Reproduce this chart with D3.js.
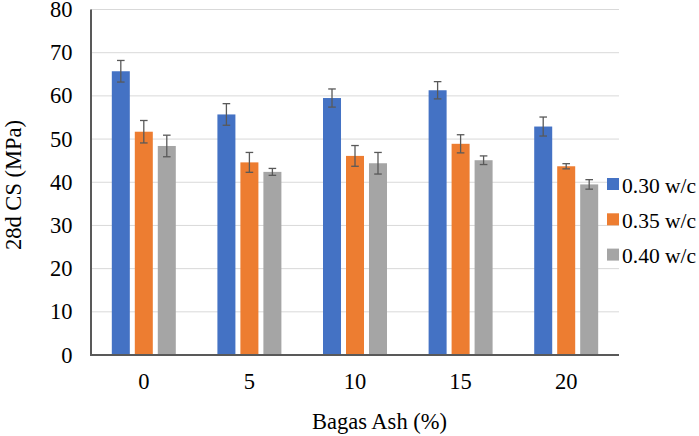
<!DOCTYPE html>
<html>
<head>
<meta charset="utf-8">
<script src="https://cdn.jsdelivr.net/npm/d3@7"></script>
<style>
  html, body { margin: 0; padding: 0; background: #fff; }
  text { font-family: "Liberation Serif", "DejaVu Serif", serif; }
</style>
</head>
<body>
<svg id="chart" width="699" height="436"></svg>
<script>
// 資料
const categories = ['0', '5', '10', '15', '20'];
const seriesNames = ['0.30 w/c', '0.35 w/c', '0.40 w/c'];
const cs030 = [65.7, 55.7, 59.5, 61.3, 52.9];
const cs035 = [51.7, 44.6, 46.1, 48.9, 43.7];
const cs040 = [48.4, 42.4, 44.4, 45.1, 39.5];
const err030 = [2.5, 2.5, 2.1, 2.0, 2.2];
const err035 = [2.6, 2.3, 2.4, 2.1, 0.6];
const err040 = [2.5, 0.8, 2.5, 1.0, 1.1];
const yTicks = [0, 10, 20, 30, 40, 50, 60, 70, 80];
const colors = ['#4472C4', '#ED7D31', '#A5A5A5'];

const values = [cs030, cs035, cs040];
const errors = [err030, err035, err040];
const FONT = '"Liberation Serif", "DejaVu Serif", serif';
const FS = 22.5;

const svg = d3.select('#chart');
const margin = { top: 9.5, right: 80, bottom: 81, left: 91 };
const width = 699, height = 436;
const plotRight = 619;
const plotBottom = height - margin.bottom; // 355

// 比例尺
const x = d3.scaleBand().domain(categories).range([margin.left, plotRight]).padding(0);
const xs = d3.scaleBand().domain(seriesNames).range([0, x.bandwidth()])
  .paddingInner(0.217).paddingOuter(0.905);
const y = d3.scaleLinear().domain([0, 80]).range([plotBottom, margin.top]);

// 格線
svg.append('g')
  .selectAll('line')
  .data(yTicks.filter(d => d > 0))
  .join('line')
  .attr('x1', margin.left).attr('x2', plotRight)
  .attr('y1', d => y(d)).attr('y2', d => y(d))
  .attr('stroke', '#D9D9D9').attr('stroke-width', 1);

// 柱子
const rows = [];
categories.forEach((c, i) => {
  seriesNames.forEach((s, j) => {
    rows.push({ cat: c, series: s, idx: j, value: values[j][i], err: errors[j][i] });
  });
});

svg.append('g')
  .selectAll('rect')
  .data(rows)
  .join('rect')
  .attr('x', d => x(d.cat) + xs(d.series))
  .attr('y', d => y(d.value))
  .attr('width', xs.bandwidth())
  .attr('height', d => y(0) - y(d.value))
  .attr('fill', d => colors[d.idx]);

// 誤差線
const eb = svg.append('g').attr('stroke', '#595959').attr('stroke-width', 1.3);
rows.forEach(d => {
  const cx = x(d.cat) + xs(d.series) + xs.bandwidth() / 2;
  const y1 = y(d.value + d.err), y2 = y(d.value - d.err);
  eb.append('line').attr('x1', cx).attr('x2', cx).attr('y1', y1).attr('y2', y2);
  eb.append('line').attr('x1', cx - 3.8).attr('x2', cx + 3.8).attr('y1', y1).attr('y2', y1);
  eb.append('line').attr('x1', cx - 3.8).attr('x2', cx + 3.8).attr('y1', y2).attr('y2', y2);
});

// 軸線
svg.append('line')
  .attr('x1', margin.left).attr('x2', margin.left)
  .attr('y1', y(80)).attr('y2', y(0))
  .attr('stroke', '#595959').attr('stroke-width', 2);
svg.append('line')
  .attr('x1', margin.left - 1).attr('x2', plotRight)
  .attr('y1', y(0)).attr('y2', y(0))
  .attr('stroke', '#595959').attr('stroke-width', 2);

// Y 軸標籤
svg.append('g')
  .selectAll('text')
  .data(yTicks)
  .join('text')
  .attr('x', 72.5)
  .attr('y', d => y(d) + 7.6)
  .attr('text-anchor', 'end')
  .attr('font-family', FONT)
  .attr('font-size', FS)
  .attr('fill', '#000')
  .text(d => d);

// X 軸標籤
svg.append('g')
  .selectAll('text')
  .data(categories)
  .join('text')
  .attr('x', d => x(d) + x.bandwidth() / 2)
  .attr('y', 389)
  .attr('text-anchor', 'middle')
  .attr('font-family', FONT)
  .attr('font-size', FS)
  .attr('fill', '#000')
  .text(d => d);

// 軸標題
svg.append('text')
  .attr('x', 379.5).attr('y', 428.5)
  .attr('text-anchor', 'middle')
  .attr('font-family', FONT)
  .attr('font-size', FS)
  .text('Bagas Ash (%)');

svg.append('text')
  .attr('transform', 'translate(21,185) rotate(-90)')
  .attr('text-anchor', 'middle')
  .attr('font-family', FONT)
  .attr('font-size', FS)
  .text('28d CS (MPa)');

// 圖例
const legend = svg.append('g');
seriesNames.forEach((s, j) => {
  const ly = 185 + j * 35.3;
  legend.append('rect')
    .attr('x', 607).attr('y', ly - 7)
    .attr('width', 12).attr('height', 12)
    .attr('fill', colors[j]);
  legend.append('text')
    .attr('x', 622)
    .attr('y', ly + 7.5)
    .attr('font-family', FONT)
    .attr('font-size', 21.5)
    .text(s);
});
</script>
</body>
</html>
